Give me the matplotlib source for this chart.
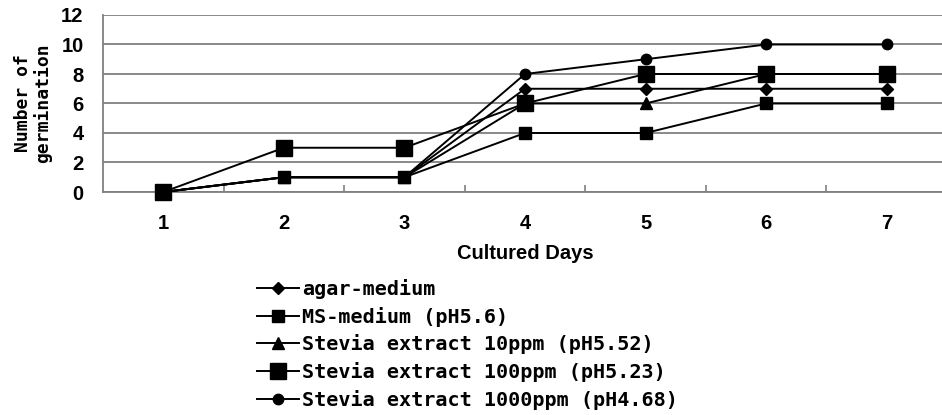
import numpy as np
import matplotlib.pyplot as plt

# germination counts per culture day
days = [1, 2, 3, 4, 5, 6, 7]
agar = [0, 1, 1, 7, 7, 7, 7]
ms = [0, 1, 1, 4, 4, 6, 6]
stevia10 = [0, 1, 1, 6, 6, 8, 8]
stevia100 = [0, 3, 3, 6, 8, 8, 8]
stevia1000 = [0, 1, 1, 8, 9, 10, 10]

labels = ['agar-medium',
          'MS-medium (pH5.6)',
          'Stevia extract 10ppm (pH5.52)',
          'Stevia extract 100ppm (pH5.23)',
          'Stevia extract 1000ppm (pH4.68)']

fig = plt.figure(figsize=(9.42, 4.15), dpi=100)
ax = fig.add_axes([103/942, 223/415, 844/942, 177/415])

series = [agar, ms, stevia10, stevia100, stevia1000]
markers = ['D', 's', '^', 's', 'o']
sizes = [6, 8, 8, 12, 7.5]
for vals, m, s, lab in zip(series, markers, sizes, labels):
    ax.plot(days, vals, color='black', lw=1.4, marker=m, ms=s,
            mfc='black', mec='black', label=lab, clip_on=False, zorder=3)

ax.set_xlim(0.5, 7.5)
ax.set_ylim(0, 12)
ax.set_yticks(range(0, 13, 2))
ax.set_xticks(days)
ax.set_xticks(np.arange(1.5, 7.5, 1), minor=True)
ax.grid(axis='y', color='#808080', lw=1.3)
ax.set_axisbelow(True)

for side in ['top', 'right']:
    ax.spines[side].set_visible(False)
ax.spines['left'].set_color('#808080')
ax.spines['bottom'].set_color('#808080')
ax.spines['left'].set_linewidth(1.3)
ax.spines['bottom'].set_linewidth(1.3)

ax.tick_params(axis='x', which='major', length=0, pad=16)
ax.tick_params(axis='x', which='minor', length=5, direction='in',
               color='#808080', width=1.2)
ax.tick_params(axis='y', length=0, pad=14)
for t in ax.get_xticklabels() + ax.get_yticklabels():
    t.set_fontfamily('Liberation Sans')
    t.set_fontweight('bold')
    t.set_fontsize(14.5)

ax.set_xlabel('Cultured Days', family='Liberation Sans', weight='bold',
              fontsize=14.5, labelpad=8)
fig.text(33/942, 1 - 103/415, 'Number of\ngermination', rotation=90,
         ha='center', va='center', family='DejaVu Sans Mono', weight='bold',
         fontsize=13, linespacing=1.05)

fig.legend(loc='upper left', bbox_to_anchor=(257/942, 1 - 279/415),
           frameon=False, prop={'family': 'DejaVu Sans Mono', 'weight': 'bold',
                                'size': 14.5},
           handlelength=2.1, handletextpad=0.15, labelspacing=0.38,
           borderpad=0, borderaxespad=0)

fig.savefig('out.png', dpi=100)
